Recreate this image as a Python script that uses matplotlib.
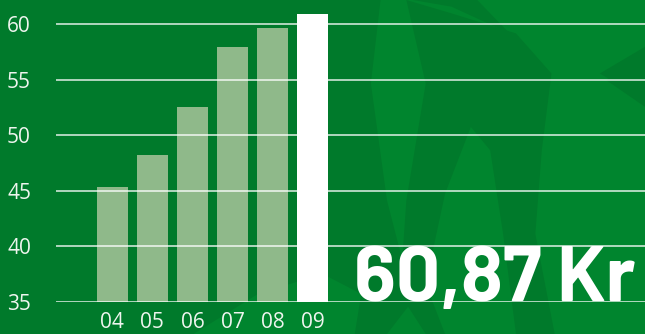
import matplotlib
matplotlib.use("Agg")
import matplotlib.pyplot as plt
from matplotlib.patches import Polygon

years = ["04", "05", "06", "07", "08", "09"]
prices = [45.3, 48.2, 52.5, 57.9, 59.6, 60.87]
bar_colors = ["#8fb98a", "#8fb98a", "#8fb98a", "#8fb98a", "#8fb98a", "#ffffff"]
y_ticks = [35, 40, 45, 50, 55, 60]
headline = "60,87 Kr"

BG = "#007a2b"
LIGHT = "#00852e"

fig = plt.figure(figsize=(6.45, 3.34), dpi=100, facecolor=BG)

# soft lighter background shapes (figure coords)
bg_ax = fig.add_axes([0, 0, 1, 1], zorder=0)
bg_ax.set_axis_off()
bg_ax.set_xlim(0, 1)
bg_ax.set_ylim(0, 1)
shapes = [
    [(0.59, 1.0), (0.575, 0.75), (0.60, 0.40), (0.64, 0.10), (0.60, 0.0),
     (1.0, 0.0), (1.0, 0.70), (0.93, 0.78), (1.0, 0.86), (1.0, 1.0),
     (0.74, 1.0), (0.79, 0.90), (0.70, 0.98), (0.64, 1.0)],
    [(0.30, 0.0), (0.40, 0.12), (0.50, 0.18), (0.56, 0.12), (0.55, 0.0)],
]
for pts in shapes:
    bg_ax.add_patch(Polygon(pts, closed=True, facecolor=LIGHT,
                            edgecolor="none"))
darks = [
    [(0.63, 1.0), (0.70, 0.96), (0.80, 0.90), (0.855, 0.78), (0.84, 0.55),
     (0.83, 0.30), (0.86, 0.0), (0.80, 0.0), (0.78, 0.30), (0.76, 0.55),
     (0.73, 0.62), (0.69, 0.42), (0.66, 0.15), (0.69, 0.0), (0.66, 0.0),
     (0.62, 0.12), (0.63, 0.40), (0.66, 0.75)],
    [(1.0, 0.68), (0.94, 0.76), (0.98, 0.82), (1.0, 0.80)],
]
for pts in darks:
    bg_ax.add_patch(Polygon(pts, closed=True, facecolor=BG, edgecolor="none"))

ax = fig.add_axes([56 / 645, 32 / 334, 589 / 645, 302 / 334], zorder=1)
ax.set_facecolor("none")

x = list(range(len(years)))
ax.bar(x, [p - 35 for p in prices], bottom=35, width=0.78,
       color=bar_colors, zorder=2)

ax.set_xlim(-1.41, 13.31)
ax.set_ylim(35, 62.16)
ax.set_yticks(y_ticks)
ax.set_xticks(x)
ax.set_xticklabels(years)
for t in y_ticks:
    ax.axhline(t, color="white", alpha=0.75, lw=1.3, zorder=3)

for s in ax.spines.values():
    s.set_visible(False)
ax.tick_params(length=0, colors="#eef5ee", labelsize=15)
ax.tick_params(axis="y", pad=18)
ax.tick_params(axis="x", pad=7)
for lab in ax.get_xticklabels() + ax.get_yticklabels():
    lab.set_fontfamily(["Open Sans", "DejaVu Sans"])
    lab.set_fontweight("normal")

ax.text(0.985, 0.098, headline, transform=fig.transFigure, ha="right",
        va="baseline", color="white", fontsize=56, fontweight="bold",
        fontfamily=["Barlow", "Barlow Semi Condensed", "DejaVu Sans"],
        zorder=5)

fig.savefig("out.png", dpi=100, facecolor=BG)
